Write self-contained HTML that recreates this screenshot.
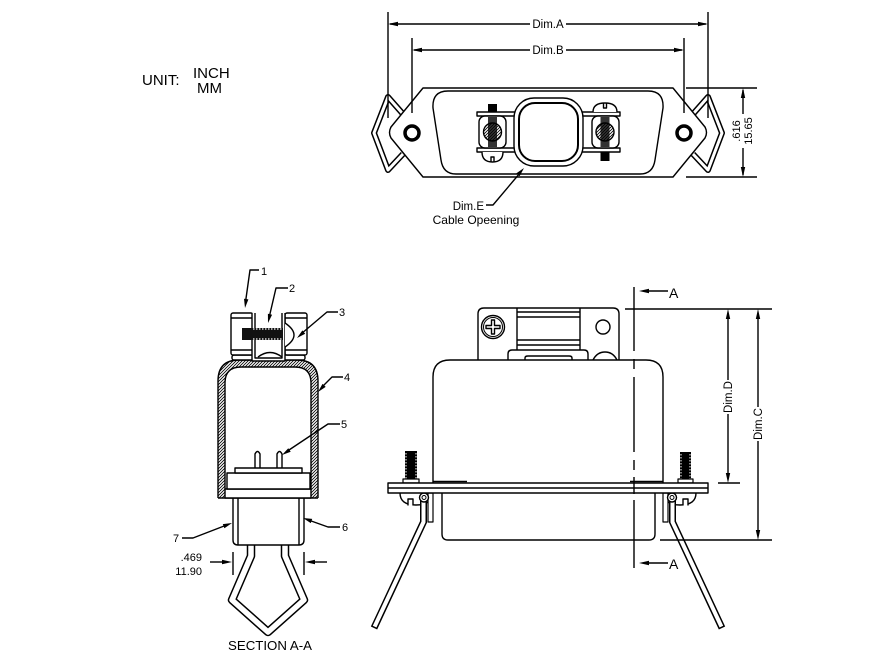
<!DOCTYPE html>
<html><head><meta charset="utf-8"><style>
html,body{margin:0;padding:0;background:#fff;}
svg{display:block;}
text{font-family:"Liberation Sans",Arial,sans-serif;fill:#000;stroke:none;}
</style></head><body>
<svg width="872" height="658" viewBox="0 0 872 658" xmlns="http://www.w3.org/2000/svg">
<defs>
<pattern id="h" width="3" height="3" patternUnits="userSpaceOnUse"><path d="M-1,1 L1,-1 M0,3 L3,0 M2,4 L4,2" stroke="#000" stroke-width="0.8"/></pattern>
</defs>
<rect width="872" height="658" fill="#fff"/>

<!-- UNIT -->
<text x="142" y="85" font-size="15">UNIT:</text>
<text x="193" y="78" font-size="15">INCH</text>
<text x="197" y="93" font-size="15">MM</text>

<g fill="none" stroke="#000" stroke-width="1.4" stroke-linejoin="round">

<!-- ============ TOP VIEW ============ -->
<!-- wires -->
<path d="M403,114 L388,97 L374,133 L388,170 L403,154" stroke-width="6"/>
<path d="M403,114 L388,97 L374,133 L388,170 L403,154" stroke="#fff" stroke-width="3"/>
<path d="M693,114 L708,97 L722,133 L708,170 L693,154" stroke-width="6"/>
<path d="M693,114 L708,97 L722,133 L708,170 L693,154" stroke="#fff" stroke-width="3"/>
<!-- flange -->
<path d="M423,88 L673,88 L705,127 Q708,132.5 705,138 L673,177 L423,177 L391,138 Q388,132.5 391,127 Z" fill="#fff"/>
<!-- shell -->
<path d="M448,91 L648,91 Q664,91 663,108 L655,160 Q653,174 640,174 L456,174 Q443,174 441,160 L433,108 Q432,91 448,91 Z"/>
<!-- holes -->
<circle cx="412" cy="133" r="7" stroke-width="3.5"/>
<circle cx="684" cy="133" r="7" stroke-width="3.5"/>
<!-- clamp bars -->
<path d="M477,112 H620 V116 H477 Z" fill="#fff"/>
<path d="M477,148 H620 V152 H477 Z" fill="#fff"/>
<!-- left block -->
<rect x="479" y="116" width="27" height="32" rx="6" fill="#fff"/>
<circle cx="492.5" cy="132" r="9" fill="url(#h)"/>
<rect x="488" y="117" width="9" height="30" fill="#000" fill-opacity="0.8" stroke="none"/>
<rect x="488" y="104" width="9" height="8" fill="#000" stroke="none"/>
<path d="M482,152 Q482,162 492.5,162 Q503,162 503,152" fill="#fff"/>
<path d="M491,162 V157 H494 V162"/>
<!-- right block -->
<rect x="592" y="116" width="27" height="32" rx="6" fill="#fff"/>
<circle cx="605" cy="132" r="9" fill="url(#h)"/>
<rect x="600.5" y="117" width="9" height="30" fill="#000" fill-opacity="0.8" stroke="none"/>
<rect x="600.5" y="152" width="9" height="9" fill="#000" stroke="none"/>
<path d="M593,112 Q593,103 605,103 Q617,103 617,112" fill="#fff"/>
<path d="M603.5,103 V108 H606.5 V103"/>
<!-- ring -->
<rect x="514" y="98" width="69" height="68" rx="20" fill="#fff"/>
<rect x="519" y="103" width="59" height="58" rx="16" stroke-width="2"/>
<!-- Dim A/B -->
<line x1="388" y1="12" x2="388" y2="118"/>
<line x1="708" y1="12" x2="708" y2="118"/>
<line x1="412" y1="38" x2="412" y2="113"/>
<line x1="684" y1="38" x2="684" y2="113"/>
<line x1="390" y1="24" x2="530" y2="24"/>
<line x1="566" y1="24" x2="706" y2="24"/>
<line x1="414" y1="50" x2="530" y2="50"/>
<line x1="566" y1="50" x2="682" y2="50"/>
<!-- .616 dim -->
<line x1="686" y1="88" x2="757" y2="88"/>
<line x1="686" y1="177" x2="757" y2="177"/>
<line x1="743" y1="90" x2="743" y2="114"/>
<line x1="743" y1="148" x2="743" y2="175"/>
<!-- Dim.E leader -->
<path d="M486,205 H493 L520,173"/>

<!-- ============ SECTION A-A ============ -->
<!-- wire clip -->
<path d="M251,540 V556 L232,600 L268,632 L304,600 L285,556 V540" stroke-width="8.5"/>
<path d="M251,540 V556 L232,600 L268,632 L304,600 L285,556 V540" stroke="#fff" stroke-width="5.5"/>
<!-- collar -->
<path d="M233,498 V540 Q233,545 238,545 H299 Q304,545 304,540 V498" fill="#fff"/>
<line x1="238" y1="498" x2="238" y2="545"/>
<line x1="299" y1="498" x2="299" y2="545"/>
<!-- shell -->
<path d="M218,498 V381 Q218,360 239,360 H297 Q318,360 318,381 V498 Z" fill="url(#h)" stroke="none"/>
<path d="M225,498 V383 Q225,367 241,367 H295 Q311,367 311,383 V498 Z" fill="#fff" stroke="none"/>
<path d="M218,498 V381 Q218,360 239,360 H297 Q318,360 318,381 V498"/>
<path d="M225,489 V383 Q225,367 241,367 H295 Q311,367 311,383 V489"/>
<line x1="218" y1="498" x2="318" y2="498"/>
<rect x="225" y="489" width="86" height="9" fill="#fff"/>
<!-- insert -->
<rect x="227" y="473" width="83" height="16" fill="#fff"/>
<rect x="235" y="468" width="67" height="5" fill="#fff"/>
<path d="M255,468 V454 Q257.5,449 260,454 V468"/>
<path d="M277,468 V454 Q279.5,449 282,454 V468"/>
<!-- clamp -->
<rect x="232" y="355" width="73" height="5" rx="2" fill="#fff"/>
<rect x="231" y="313" width="22" height="42" rx="2" fill="#fff"/>
<line x1="231" y1="318" x2="253" y2="318"/>
<line x1="231" y1="350" x2="253" y2="350"/>
<rect x="285" y="313" width="22" height="42" rx="2" fill="#fff"/>
<line x1="285" y1="318" x2="307" y2="318"/>
<line x1="285" y1="350" x2="307" y2="350"/>
<path d="M252,313 V361 H285 V313" fill="#fff"/>
<path d="M255,313 V358 H282 V313"/>
<rect x="242" y="328" width="41" height="12" fill="#111" stroke="none"/>
<line x1="253" y1="329" x2="283" y2="329" stroke="#fff" stroke-dasharray="1.5 1.5" stroke-width="1.2"/>
<line x1="253" y1="339" x2="283" y2="339" stroke="#fff" stroke-dasharray="1.5 1.5" stroke-width="1.2"/>
<path d="M285,323 Q303,335 285,347" fill="#fff"/>
<path d="M258,357 Q270,348 282,357"/>
<!-- leaders -->
<path d="M259,270 H250 L245.5,302"/>
<path d="M288,288 H276 L269,318"/>
<path d="M338,312 H327 L301,334"/>
<path d="M343,377 H332 L321,388"/>
<path d="M340,424 H328 L286,452"/>
<path d="M340,527 H328 L307,519.5"/>
<path d="M182,538 H193 L228,524.5"/>
<!-- .469 dim -->
<line x1="233" y1="552" x2="233" y2="575"/>
<line x1="304" y1="552" x2="304" y2="575"/>
<line x1="210" y1="562" x2="224" y2="562"/>
<line x1="313" y1="562" x2="327" y2="562"/>

<!-- ============ FRONT VIEW ============ -->
<!-- top bracket -->
<path d="M478,360 V314 Q478,308 484,308 H613 Q619,308 619,314 V360" fill="#fff"/>
<circle cx="493" cy="327" r="11.5"/>
<circle cx="493" cy="327" r="9.5" stroke-width="1"/>
<path d="M491.5,320 H494.5 V325.5 H500 V328.5 H494.5 V334 H491.5 V328.5 H486 V325.5 H491.5 Z"/>
<circle cx="603" cy="327" r="7"/>
<line x1="517" y1="308" x2="517" y2="350"/>
<line x1="580" y1="308" x2="580" y2="350"/>
<line x1="517" y1="312" x2="580" y2="312"/>
<line x1="517" y1="317" x2="580" y2="317"/>
<line x1="517" y1="340" x2="580" y2="340"/>
<line x1="517" y1="345" x2="580" y2="345"/>
<path d="M508,360 V354 Q508,350 512,350 H584 Q588,350 588,354 V360" fill="#fff"/>
<path d="M525,360 V358 Q525,356 528,356 H569 Q572,356 572,358 V360"/>
<path d="M593,360 Q597,352 605,352 Q613,352 617,360"/>
<!-- body -->
<path d="M433,483 V377 Q433,360 450,360 H646 Q663,360 663,377 V483" fill="#fff"/>
<line x1="433" y1="481.5" x2="467" y2="481.5"/>
<line x1="630" y1="481.5" x2="663" y2="481.5"/>
<!-- lower body -->
<path d="M442,493 V534 Q442,540 448,540 H649 Q655,540 655,534 V493" fill="#fff"/>
<!-- jackscrews -->
<rect x="405" y="451" width="12" height="28" fill="#000" stroke="none"/>
<line x1="406" y1="453" x2="406" y2="479" stroke="#fff" stroke-dasharray="1.5 1.5" stroke-width="1"/>
<line x1="416" y1="453" x2="416" y2="479" stroke="#fff" stroke-dasharray="1.5 1.5" stroke-width="1"/>
<rect x="403" y="479" width="16" height="4" fill="#fff" stroke-width="1.2"/>
<rect x="680" y="452" width="11" height="27" fill="#000" stroke="none"/>
<line x1="681" y1="454" x2="681" y2="479" stroke="#fff" stroke-dasharray="1.5 1.5" stroke-width="1"/>
<line x1="690" y1="454" x2="690" y2="479" stroke="#fff" stroke-dasharray="1.5 1.5" stroke-width="1"/>
<rect x="678" y="479" width="15" height="4" fill="#fff" stroke-width="1.2"/>
<!-- nuts below flange -->
<path d="M400,493 Q400,505 416,505 Q432,505 432,493" fill="#fff"/>
<path d="M408,505.5 V499 H413 V505.5" fill="#fff"/>
<path d="M664,493 Q664,505 680,505 Q696,505 696,493" fill="#fff"/>
<path d="M683,505.5 V499 H688 V505.5" fill="#fff"/>
<!-- wires -->
<path d="M423.5,496 V522 L374,628" stroke-width="7" stroke-linejoin="miter"/>
<path d="M423.5,496 V522 L374.6,626.6" stroke="#fff" stroke-width="4" stroke-linejoin="miter"/>
<path d="M672.5,496 V522 L722,628" stroke-width="7" stroke-linejoin="miter"/>
<path d="M672.5,496 V522 L721.4,626.6" stroke="#fff" stroke-width="4" stroke-linejoin="miter"/>
<rect x="428" y="493" width="5" height="29" fill="#fff" stroke-width="1.2"/>
<rect x="663" y="493" width="5" height="29" fill="#fff" stroke-width="1.2"/>
<circle cx="424" cy="497.5" r="4.5" fill="#fff"/>
<circle cx="424" cy="497.5" r="2" stroke-width="1"/>
<circle cx="672" cy="497.5" r="4.5" fill="#fff"/>
<circle cx="672" cy="497.5" r="2" stroke-width="1"/>
<!-- flange -->
<rect x="388" y="483" width="320" height="10" fill="#fff"/>
<line x1="388" y1="488" x2="708" y2="488"/>
<!-- section line -->
<path d="M634,287 V351 M634,359 V369 M634,377 V452 M634,460 V470 M634,477 V494 M634,500 V568"/>
<line x1="649" y1="291" x2="668" y2="291"/>
<line x1="649" y1="563" x2="668" y2="563"/>
<!-- C / D dims -->
<line x1="625" y1="309" x2="772" y2="309"/>
<line x1="718" y1="483" x2="740" y2="483"/>
<line x1="660" y1="540" x2="772" y2="540"/>
<line x1="728" y1="318" x2="728" y2="380"/>
<line x1="728" y1="414" x2="728" y2="474"/>
<line x1="758" y1="318" x2="758" y2="407"/>
<line x1="758" y1="441" x2="758" y2="531"/>
</g>

<!-- arrowheads -->
<g fill="#000" stroke="none">
<polygon points="388,24 398,21.8 398,26.2"/>
<polygon points="708,24 698,21.8 698,26.2"/>
<polygon points="412,50 422,47.8 422,52.2"/>
<polygon points="684,50 674,47.8 674,52.2"/>
<polygon points="743,88 740.8,98 745.2,98"/>
<polygon points="743,177 740.8,167 745.2,167"/>
<polygon points="524,168 519.6,176.2 516.4,173.2"/>
<polygon points="245,308 248.4,299.4 244,298.8"/>
<polygon points="268,323 272.1,314.7 267.9,313.7"/>
<polygon points="297,338 305.2,333.8 302.4,330.4"/>
<polygon points="318,392 325.7,386.9 322.5,383.9"/>
<polygon points="282,455 290.7,451.8 288.3,448.2"/>
<polygon points="303,518 312.2,518.9 310.8,523.1"/>
<polygon points="232,523 224.4,528.3 222.8,524.1"/>
<polygon points="232,562 222,559.8 222,564.2"/>
<polygon points="305,562 315,559.8 315,564.2"/>
<polygon points="639,291 649,288.8 649,293.2"/>
<polygon points="639,563 649,560.8 649,565.2"/>
<polygon points="728,309 725.8,319 730.2,319"/>
<polygon points="728,483 725.8,473 730.2,473"/>
<polygon points="758,309 755.8,319 760.2,319"/>
<polygon points="758,540 755.8,530 760.2,530"/>
</g>

<!-- texts -->
<text x="548" y="28" font-size="11.5" text-anchor="middle">Dim.A</text>
<text x="548" y="54" font-size="11.5" text-anchor="middle">Dim.B</text>
<text x="484" y="210" font-size="11.5" text-anchor="end">Dim.E</text>
<text x="476" y="224" font-size="12" text-anchor="middle">Cable Opeening</text>
<text transform="translate(740,131) rotate(-90)" font-size="11" text-anchor="middle">.616</text>
<text transform="translate(752,131) rotate(-90)" font-size="11" text-anchor="middle">15.65</text>

<text x="261" y="275" font-size="11">1</text>
<text x="289" y="292" font-size="11">2</text>
<text x="339" y="316" font-size="11">3</text>
<text x="344" y="381" font-size="11">4</text>
<text x="341" y="428" font-size="11">5</text>
<text x="342" y="531" font-size="11">6</text>
<text x="173" y="542" font-size="11">7</text>
<text x="202" y="561" font-size="11" text-anchor="end">.469</text>
<text x="202" y="575" font-size="11" text-anchor="end">11.90</text>
<text x="228" y="650" font-size="12.5" textLength="84" lengthAdjust="spacingAndGlyphs">SECTION A-A</text>

<text x="669" y="298" font-size="14">A</text>
<text x="669" y="569" font-size="14">A</text>
<text transform="translate(732,397) rotate(-90)" font-size="11.5" text-anchor="middle">Dim.D</text>
<text transform="translate(762,424) rotate(-90)" font-size="11.5" text-anchor="middle">Dim.C</text>
</svg>
</body></html>
